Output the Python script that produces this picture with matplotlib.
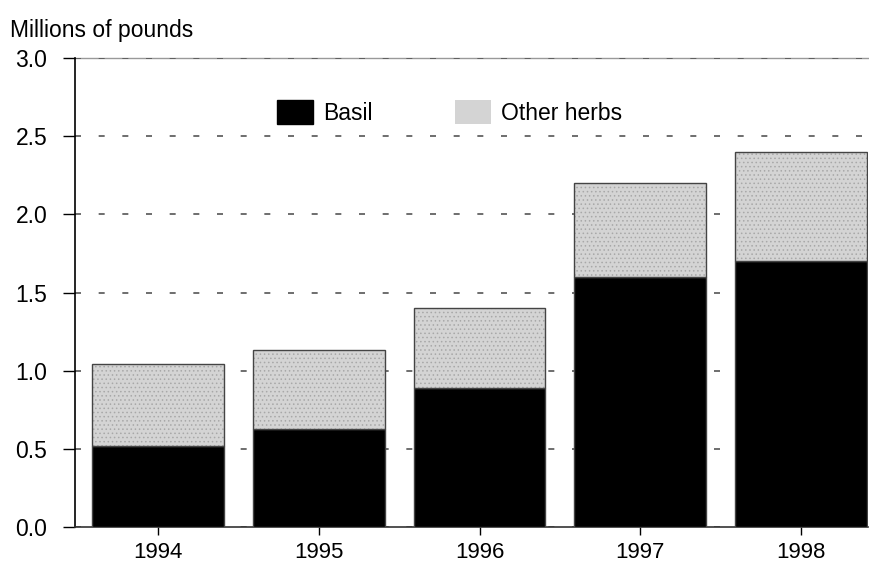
import matplotlib
matplotlib.use("Agg")
import matplotlib.pyplot as plt
from matplotlib.patches import Patch
import numpy as np

years = ["1994", "1995", "1996", "1997", "1998"]
basil = [0.52, 0.63, 0.89, 1.60, 1.70]
total = [1.04, 1.13, 1.40, 2.20, 2.40]
other = [t - b for t, b in zip(total, basil)]
yticks = [0.0, 0.5, 1.0, 1.5, 2.0, 2.5, 3.0]

plt.rcParams['font.family'] = ['Liberation Sans', 'DejaVu Sans']
plt.rcParams['hatch.linewidth'] = 0.6
FS = 16.5

fig = plt.figure(figsize=(8.7, 5.67), dpi=100)
ax = fig.add_axes([0.0862, 0.0705, 0.912, 0.8272])

x = np.arange(len(years))
b1 = ax.bar(x, basil, width=0.82, color='black', edgecolor='#444444', linewidth=1, zorder=3)
b2 = ax.bar(x, other, bottom=basil, width=0.82, color='#d4d4d4', edgecolor='#444444', linewidth=1,
            hatch='....', zorder=3)
for p in b2:
    p._hatch_color = (0.66, 0.66, 0.66, 1)

ax.set_ylim(0, 3.0)
ax.set_xlim(-0.517, 4.42)
ax.set_yticks(yticks)
ax.set_yticklabels([f"{v:.1f}" for v in yticks], fontsize=FS)
ax.set_xticks(x)
ax.set_xticklabels(years, fontsize=16)
ax.yaxis.grid(True, linestyle=(0, (3.6, 10.6)), color='#555555', linewidth=1.2, zorder=0)
ax.set_axisbelow(True)
ax.spines['right'].set_visible(False)
ax.spines['top'].set_color('#999999')
ax.spines['top'].set_linewidth(1)
ax.spines['top'].set_zorder(0.2)
ax.spines['left'].set_linewidth(1.2)
ax.spines['bottom'].set_linewidth(1.2)
ax.spines['bottom'].set_color('#333333')
ax.tick_params(axis='y', direction='out', length=9, width=1, pad=11)
ax.tick_params(axis='x', direction='out', length=6, width=1, pad=5)

ax.text(-0.082, 1.035, "Millions of pounds", transform=ax.transAxes, fontsize=FS, ha='left', va='bottom')

h1 = Patch(facecolor='black', edgecolor='black', label='Basil')
h2 = Patch(facecolor='#d4d4d4', edgecolor='none', hatch='....', label='Other herbs')
leg = ax.legend(handles=[h1, h2], loc='upper left', bbox_to_anchor=(0.2396, 0.935), ncol=2, frameon=False,
                fontsize=FS, handlelength=1.57, handleheight=1.22, columnspacing=3.6, handletextpad=0.45,
                borderpad=0)

fig.savefig("out.png", dpi=100)
